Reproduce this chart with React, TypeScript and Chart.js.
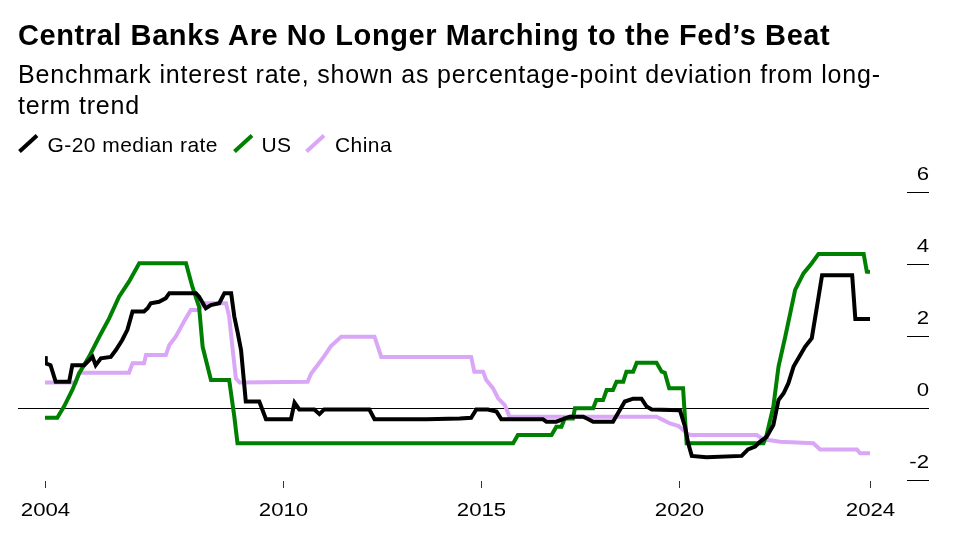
import React, { useEffect, useRef } from "react";
import { Chart, registerables } from "chart.js";

Chart.register(...registerables);

const TITLE = "Central Banks Are No Longer Marching to the Fed’s Beat";
const SUBTITLE_LINE_1 = "Benchmark interest rate, shown as percentage-point deviation from long-";
const SUBTITLE_LINE_2 = "term trend";
const SERIES_NAMES = ["G-20 median rate", "US", "China"];
const SERIES_COLORS = ["#000000", "#008000", "#d9a7f6"];

const X_MIN = 2004;
const X_MAX = 2024.83;
const X_TICK_VALUES = [2004, 2010, 2015, 2020, 2024.83];
const X_TICK_LABELS = ["2004", "2010", "2015", "2020", "2024"];
const Y_MIN = -2;
const Y_MAX = 6;
const Y_TICK_VALUES = [-2, 0, 2, 4, 6];
const Y_TICK_LABELS = ["-2", "0", "2", "4", "6"];

// G-20 median rate
const g20Years = [
  2004.0, 2004.02, 2004.14, 2004.27, 2004.61, 2004.69, 2004.99, 2005.2, 2005.28, 2005.41,
  2005.66, 2005.79, 2005.95, 2006.08, 2006.21, 2006.5, 2006.59, 2006.67, 2006.88, 2007.05,
  2007.14, 2007.81, 2007.89, 2008.06, 2008.19, 2008.4, 2008.53, 2008.7, 2008.78, 2008.86,
  2008.95, 2009.07, 2009.41, 2009.58, 2010.21, 2010.3, 2010.42, 2010.8, 2010.93, 2011.05,
  2012.19, 2012.32, 2013.63, 2014.47, 2014.76, 2014.89, 2015.18, 2015.4, 2015.52, 2016.57,
  2016.66, 2016.91, 2017.08, 2017.25, 2017.59, 2017.72, 2017.84, 2018.34, 2018.51, 2018.64,
  2018.85, 2019.06, 2019.19, 2019.32, 2020.03, 2020.16, 2020.24, 2020.33, 2020.7, 2021.59,
  2021.75, 2021.93, 2022.05, 2022.22, 2022.39, 2022.52, 2022.65, 2022.77, 2022.9, 2023.07,
  2023.19, 2023.36, 2023.49, 2023.62, 2024.38, 2024.46, 2024.83,
];
const g20Values = [
  1.44, 1.24, 1.19, 0.73, 0.73, 1.19, 1.19, 1.42, 1.19, 1.38,
  1.42, 1.61, 1.89, 2.17, 2.68, 2.68, 2.77, 2.91, 2.95, 3.05,
  3.19, 3.19, 3.09, 2.77, 2.86, 2.91, 3.19, 3.19, 2.54, 2.12,
  1.61, 0.18, 0.18, -0.31, -0.31, 0.15, -0.04, -0.04, -0.17, -0.04,
  -0.04, -0.31, -0.31, -0.29, -0.27, -0.04, -0.04, -0.1, -0.31, -0.31,
  -0.38, -0.38, -0.31, -0.24, -0.24, -0.31, -0.38, -0.38, -0.06, 0.18,
  0.26, 0.26, 0.04, -0.04, -0.06, -0.52, -0.98, -1.33, -1.37, -1.33,
  -1.15, -1.07, -0.94, -0.8, -0.47, 0.22, 0.41, 0.69, 1.15, 1.47,
  1.7, 1.94, 2.81, 3.69, 3.69, 2.47, 2.47,
];

// US
const usYears = [
  2004.0, 2004.31, 2004.48, 2004.69, 2004.86, 2005.11, 2005.37, 2005.62, 2005.87, 2006.12,
  2006.38, 2007.56, 2007.72, 2007.89, 2007.98, 2008.19, 2008.65, 2008.78, 2008.86, 2015.82,
  2015.94, 2016.79, 2016.91, 2017.04, 2017.12, 2017.33, 2017.38, 2017.84, 2017.92, 2018.09,
  2018.18, 2018.34, 2018.43, 2018.6, 2018.68, 2018.85, 2018.94, 2019.44, 2019.57, 2019.65,
  2019.76, 2020.11, 2020.2, 2022.14, 2022.22, 2022.39, 2022.52, 2022.69, 2022.85, 2022.94,
  2023.15, 2023.36, 2023.53, 2024.67, 2024.75, 2024.83,
];
const usValues = [
  -0.27, -0.27, 0.04, 0.5, 0.96, 1.42, 1.98, 2.49, 3.09, 3.51,
  4.02, 4.02, 3.37, 2.81, 1.7, 0.78, 0.78, -0.24, -0.98, -0.98,
  -0.75, -0.75, -0.52, -0.52, -0.29, -0.29, -0.01, -0.01, 0.22, 0.22,
  0.5, 0.5, 0.73, 0.73, 1.01, 1.01, 1.26, 1.26, 1.01, 0.98,
  0.55, 0.55, -0.98, -0.98, -0.75, 0.04, 1.15, 1.98, 2.81, 3.28,
  3.74, 4.02, 4.28, 4.28, 3.79, 3.78,
];

// China
const chinaYears = [
  2004.0, 2004.78, 2004.86, 2006.12, 2006.21, 2006.5, 2006.55, 2007.05, 2007.14, 2007.3,
  2007.51, 2007.68, 2007.89, 2007.98, 2008.57, 2008.65, 2008.74, 2008.82, 2008.91, 2010.63,
  2010.72, 2010.88, 2011.05, 2011.22, 2011.48, 2012.32, 2012.49, 2014.76, 2014.84, 2015.06,
  2015.14, 2015.31, 2015.44, 2015.61, 2015.73, 2019.44, 2019.6, 2019.78, 2020.0, 2020.2,
  2020.3, 2021.97, 2022.14, 2022.56, 2023.4, 2023.57, 2024.5, 2024.58, 2024.83,
];
const chinaValues = [
  0.71, 0.71, 0.98, 0.98, 1.24, 1.24, 1.47, 1.47, 1.75, 1.98,
  2.4, 2.72, 2.72, 2.91, 2.91, 2.54, 1.61, 0.82, 0.71, 0.73,
  0.96, 1.19, 1.44, 1.72, 1.98, 1.98, 1.42, 1.42, 1.01, 1.01,
  0.78, 0.55, 0.27, 0.08, -0.24, -0.24, -0.33, -0.43, -0.5, -0.7,
  -0.75, -0.75, -0.87, -0.94, -0.98, -1.15, -1.15, -1.26, -1.26,
];

const FONT = "'Liberation Sans', Arial, Helvetica, sans-serif";

function toPoints(xs: number[], ys: number[]) {
  return xs.map((x, i) => ({ x, y: ys[i] }));
}

const axesPlugin = {
  id: "bbgAxes",
  beforeDatasetsDraw(chart: any) {
    const { ctx, chartArea, scales } = chart;
    const y = scales.y;
    ctx.save();
    const y0 = Math.round(y.getPixelForValue(0)) + 0.5;
    ctx.strokeStyle = "#000";
    ctx.lineWidth = 1;
    ctx.beginPath();
    ctx.moveTo(chartArea.left - 27, y0);
    ctx.lineTo(chartArea.right + 59, y0);
    ctx.stroke();
    ctx.restore();
  },
  afterDatasetsDraw(chart: any) {
    const { ctx, chartArea, scales } = chart;
    const x = scales.x;
    const y = scales.y;
    ctx.save();
    ctx.fillStyle = "#000";
    ctx.strokeStyle = "#000";
    ctx.lineWidth = 1;
    ctx.font = `18.5px ${FONT}`;
    // y ticks
    const rightEdge = chartArea.right + 59;
    Y_TICK_VALUES.forEach((v, i) => {
      const py = Math.round(y.getPixelForValue(v)) + 0.5;
      ctx.strokeStyle = "#000";
      ctx.beginPath();
      ctx.moveTo(chartArea.right + 37, py);
      ctx.lineTo(rightEdge, py);
      ctx.stroke();
      ctx.save();
      ctx.translate(rightEdge, py - 13);
      ctx.scale(1.2, 1);
      ctx.textAlign = "right";
      ctx.textBaseline = "alphabetic";
      ctx.fillText(Y_TICK_LABELS[i], 0, 0);
      ctx.restore();
    });
    // x ticks
    X_TICK_VALUES.forEach((v, i) => {
      const px = Math.round(x.getPixelForValue(v)) + 0.5;
      ctx.strokeStyle = "#333";
      ctx.beginPath();
      ctx.moveTo(px, chartArea.bottom + 1);
      ctx.lineTo(px, chartArea.bottom + 8);
      ctx.stroke();
      ctx.save();
      ctx.translate(px, chartArea.bottom + 36);
      ctx.scale(1.2, 1);
      ctx.textAlign = "center";
      ctx.textBaseline = "alphabetic";
      ctx.fillText(X_TICK_LABELS[i], 0, 0);
      ctx.restore();
    });
    ctx.restore();
  },
};

function LegendIcon({ left, color }: { left: number; color: string }) {
  return (
    <svg
      width={22}
      height={22}
      style={{ position: "absolute", left, top: 132 }}
    >
      <line x1={1.5} y1={19.5} x2={19} y2={3.5} stroke={color} strokeWidth={4} />
    </svg>
  );
}

export default function App() {
  const canvasRef = useRef<HTMLCanvasElement | null>(null);

  useEffect(() => {
    const canvas = canvasRef.current;
    if (!canvas) return;
    const chart = new Chart(canvas, {
      type: "line",
      data: {
        datasets: [
          {
            label: SERIES_NAMES[0],
            data: toPoints(g20Years, g20Values),
            borderColor: SERIES_COLORS[0],
            borderWidth: 4,
          },
          {
            label: SERIES_NAMES[1],
            data: toPoints(usYears, usValues),
            borderColor: SERIES_COLORS[1],
            borderWidth: 4,
          },
          {
            label: SERIES_NAMES[2],
            data: toPoints(chinaYears, chinaValues),
            borderColor: SERIES_COLORS[2],
            borderWidth: 4,
          },
        ],
      },
      options: {
        responsive: false,
        animation: false,
        devicePixelRatio: 1,
        parsing: false as any,
        layout: { padding: { left: 45, right: 101, top: 192, bottom: 67 } },
        elements: {
          point: { radius: 0 },
          line: { tension: 0, borderCapStyle: "butt", borderJoinStyle: "miter" },
        },
        plugins: { legend: { display: false }, tooltip: { enabled: false } },
        scales: {
          x: { type: "linear", min: X_MIN, max: X_MAX, display: false },
          y: { type: "linear", min: Y_MIN, max: Y_MAX, display: false },
        },
      },
      plugins: [axesPlugin],
    });
    return () => chart.destroy();
  }, []);

  const textBase: React.CSSProperties = {
    position: "absolute",
    margin: 0,
    whiteSpace: "nowrap",
    fontFamily: FONT,
    color: "#000",
  };

  return (
    <div
      style={{
        position: "fixed",
        left: 0,
        top: 0,
        width: 971,
        height: 547,
        background: "#fff",
        overflow: "hidden",
      }}
    >
      <canvas
        ref={canvasRef}
        width={971}
        height={547}
        style={{ position: "absolute", left: 0, top: 0, width: 971, height: 547 }}
      />
      <div
        style={{
          ...textBase,
          left: 18,
          top: 21.2,
          fontSize: 29,
          lineHeight: "29px",
          fontWeight: 700,
          letterSpacing: "0.58px",
        }}
      >
        {TITLE}
      </div>
      <div
        style={{
          ...textBase,
          left: 18,
          top: 62.1,
          fontSize: 25,
          lineHeight: "25px",
          letterSpacing: "0.8px",
        }}
      >
        {SUBTITLE_LINE_1}
      </div>
      <div
        style={{
          ...textBase,
          left: 18,
          top: 93.1,
          fontSize: 25,
          lineHeight: "25px",
          letterSpacing: "0.8px",
        }}
      >
        {SUBTITLE_LINE_2}
      </div>
      <LegendIcon left={18} color={SERIES_COLORS[0]} />
      <LegendIcon left={233} color={SERIES_COLORS[1]} />
      <LegendIcon left={305} color={SERIES_COLORS[2]} />
      {[47.5, 261.5, 335].map((left, i) => (
        <div
          key={SERIES_NAMES[i]}
          style={{
            ...textBase,
            left,
            top: 133.9,
            fontSize: 21,
            lineHeight: "21px",
            letterSpacing: "0.44px",
          }}
        >
          {SERIES_NAMES[i]}
        </div>
      ))}
    </div>
  );
}
